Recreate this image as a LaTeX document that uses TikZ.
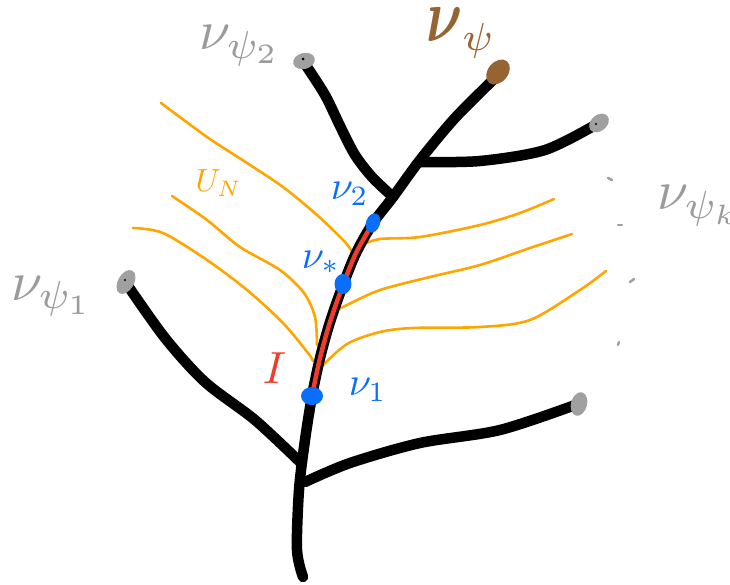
\documentclass[tikz,border=0pt]{standalone}
\usepackage{amsmath}
\definecolor{lblgrey}{RGB}{155,155,155}
\definecolor{tipgrey}{RGB}{160,160,160}
\definecolor{brownc}{RGB}{150,100,50}
\definecolor{orangec}{RGB}{255,165,0}
\definecolor{bluec}{RGB}{10,110,250}
\definecolor{redc}{RGB}{240,60,40}
\tikzset{
  stem/.style={line width=10.5pt, line cap=round, line join=round, black},
  level/.style={line width=2.6pt, line cap=round, orangec},
  seg/.style={line width=4.5pt, line cap=round, redc},
  dotpt/.style={line width=2.5pt, line cap=round, tipgrey},
  lbl/.style={inner sep=0pt, anchor=base west},
}
\begin{document}
\begin{tikzpicture}[x=1pt,y=-1pt]
\useasboundingbox (0,0) rectangle (730,585);
% orange level curves
\draw[level] plot[smooth] coordinates {(161,103) (207,137) (247,163) (283,187) (317,215) (345,242) (354,255)};
\draw[level] plot[smooth] coordinates {(172,196) (207,220) (240,247) (280,270) (304,293) (315,317) (317,345)};
\draw[level] plot[smooth] coordinates {(133,228) (163,233) (207,260) (247,290) (283,323) (308,353) (313,361)};
\draw[level] plot[smooth] coordinates {(554,199) (520,213) (480,225) (420,237) (380,239) (362,245) (359,248)};
\draw[level] plot[smooth] coordinates {(572,234) (530,248) (480,265) (430,277) (380,290) (347,305) (333,312)};
\draw[level] plot[smooth] coordinates {(606,271) (580,290) (530,320) (480,327) (413,328) (380,332) (347,344) (320,368)};
% branches
\draw[stem] plot[smooth] coordinates {(303,577) (297,550) (299,490) (305,440) (312,396) (320,358) (330,322) (343,285) (356,253) (373,223) (393,197) (420,160) (455,118) (493,80)};
\draw[stem] plot[smooth] coordinates {(305,64) (325,95) (341,128) (355,155) (372,177) (393,197)};
\draw[stem] plot[smooth] coordinates {(420,162) (480,161) (545,150) (597,124)};
\draw[stem] plot[smooth] coordinates {(126,283) (165,338) (205,382) (255,420) (300,462)};
\draw[stem] plot[smooth] coordinates {(305,482) (350,463) (420,443) (500,430) (578,404)};
% red interval
\draw[seg] plot[smooth] coordinates {(312,396) (320,358) (330,322) (343,285) (356,253) (373,223)};
% tips
\fill[tipgrey] (304,61) ellipse [x radius=11pt, y radius=8pt, rotate=15];
\fill[brownc] (498,72) ellipse [x radius=14pt, y radius=10pt, rotate=50];
\fill[tipgrey] (599,123) ellipse [x radius=11pt, y radius=8pt, rotate=40];
\fill[tipgrey] (126,282) ellipse [x radius=13pt, y radius=8pt, rotate=60];
\fill[tipgrey] (579,404) ellipse [x radius=12pt, y radius=8pt, rotate=75];
\fill[black] (303,59) circle [radius=1.5pt];
\fill[black] (125,280) circle [radius=1.2pt];
\fill[black] (596,124) circle [radius=1.2pt];
% blue points
\fill[bluec] (312,396) ellipse [x radius=11pt, y radius=9pt];
\fill[bluec] (343,284) ellipse [x radius=8.5pt, y radius=10pt];
\fill[bluec] (373,223) ellipse [x radius=7pt, y radius=10pt, rotate=-20];
% grey dots
\draw[dotpt] (608,178) -- (612,180);
\draw[dotpt] (618,225) -- (622,225);
\draw[dotpt] (630,282) -- (634,279);
\draw[dotpt] (618,345) -- (619,342);
% labels
\node[lbl, text=lblgrey, scale=5.6] (lpsi2) at (198,50) {$\nu_{\psi_2}$};
\node[lbl, text=lblgrey, scale=5.6] (lpsi1) at (10,300) {$\nu_{\psi_1}$};
\node[lbl, text=lblgrey, scale=5.6] (lpsik) at (656,210) {$\nu_{\psi_k}$};
\node[lbl, text=brownc, scale=5.6] (lpsi) at (425,42) {\scalebox{1}[1.35]{$\boldsymbol{\nu}$}$_{\psi}$};
\node[lbl, text=bluec, scale=4] (lnu2) at (330,200) {$\nu_2$};
\node[lbl, text=bluec, scale=4] (lnus) at (301,268) {$\nu_*$};
\node[lbl, text=bluec, scale=4] (lnu1) at (348,395) {$\nu_1$};
\node[lbl, text=redc, scale=4.5] (lI) at (262,383) {$I$};
\node[lbl, text=orangec, scale=3.2] (lUN) at (195,192) {$U_N$};
\end{tikzpicture}
\end{document}
